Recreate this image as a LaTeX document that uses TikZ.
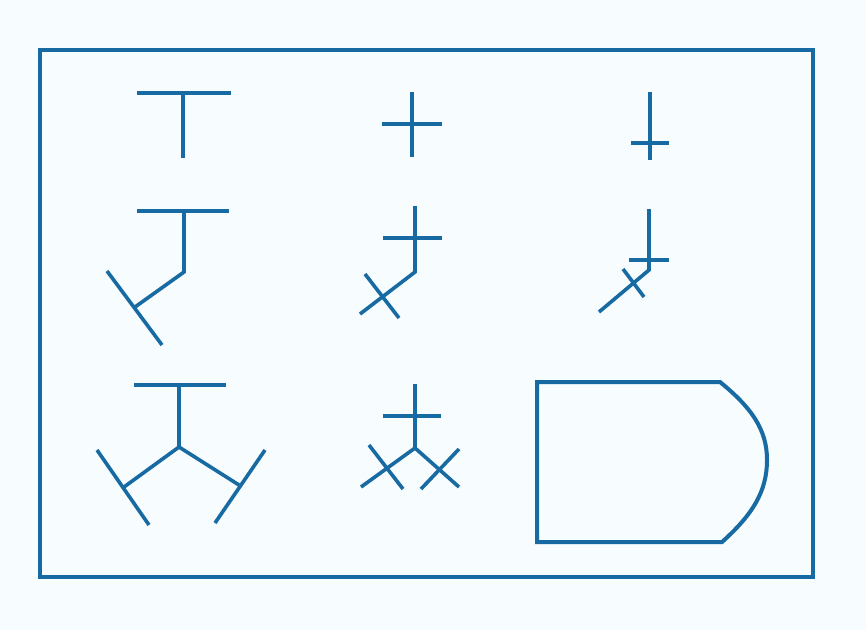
\documentclass[tikz,border=0pt]{standalone}
\definecolor{ink}{RGB}{24,106,162}
\definecolor{paper}{RGB}{247,252,254}
\begin{document}
\begin{tikzpicture}[x=1pt,y=-1pt,
  stroke/.style={draw=ink,line width=3.6pt,line cap=butt,line join=miter},
  framestroke/.style={draw=ink,line width=4pt}]
\fill[paper] (0,0) rectangle (866,630);
\useasboundingbox (0,0) rectangle (866,630);
% frame
\draw[framestroke] (40,50) rectangle (813,577);
% Row 1
\draw[stroke] (137,93) -- (231,93);
\draw[stroke] (183,93) -- (183,158);
\draw[stroke] (382,124) -- (442,124);
\draw[stroke] (412,92) -- (412,157);
\draw[stroke] (650,92) -- (650,160);
\draw[stroke] (631,143) -- (669,143);
% Row 2 left
\draw[stroke] (137,211) -- (229,211);
\draw[stroke] (184,211) -- (184,272) -- (135,307);
\draw[stroke] (107,271) -- (162,345);
% Row 2 middle
\draw[stroke] (415,206) -- (415,272) -- (360,314);
\draw[stroke] (383,238) -- (442,238);
\draw[stroke] (365,274) -- (399,318);
% Row 2 right
\draw[stroke] (649,209) -- (649,270) -- (599,312);
\draw[stroke] (629,260) -- (669,260);
\draw[stroke] (623,269) -- (644,297);
% Row 3 left
\draw[stroke] (134,385) -- (226,385);
\draw[stroke] (179,385) -- (179,447);
\draw[stroke] (124,487) -- (179,447) -- (239,485);
\draw[stroke] (97,450) -- (149,525);
\draw[stroke] (265,450) -- (215,523);
% Row 3 middle
\draw[stroke] (415,384) -- (415,448);
\draw[stroke] (383,416) -- (441,416);
\draw[stroke] (361,487) -- (415,448) -- (459,487);
\draw[stroke] (369,445) -- (403,489);
\draw[stroke] (459,449) -- (421,489);
% Shape
\draw[stroke,line width=4pt] (537,382) -- (720,382)
  .. controls (752,408) and (767,430) .. (767,460)
  .. controls (767,492) and (752,515) .. (722,542) -- (537,542) -- cycle;
\end{tikzpicture}
\end{document}
